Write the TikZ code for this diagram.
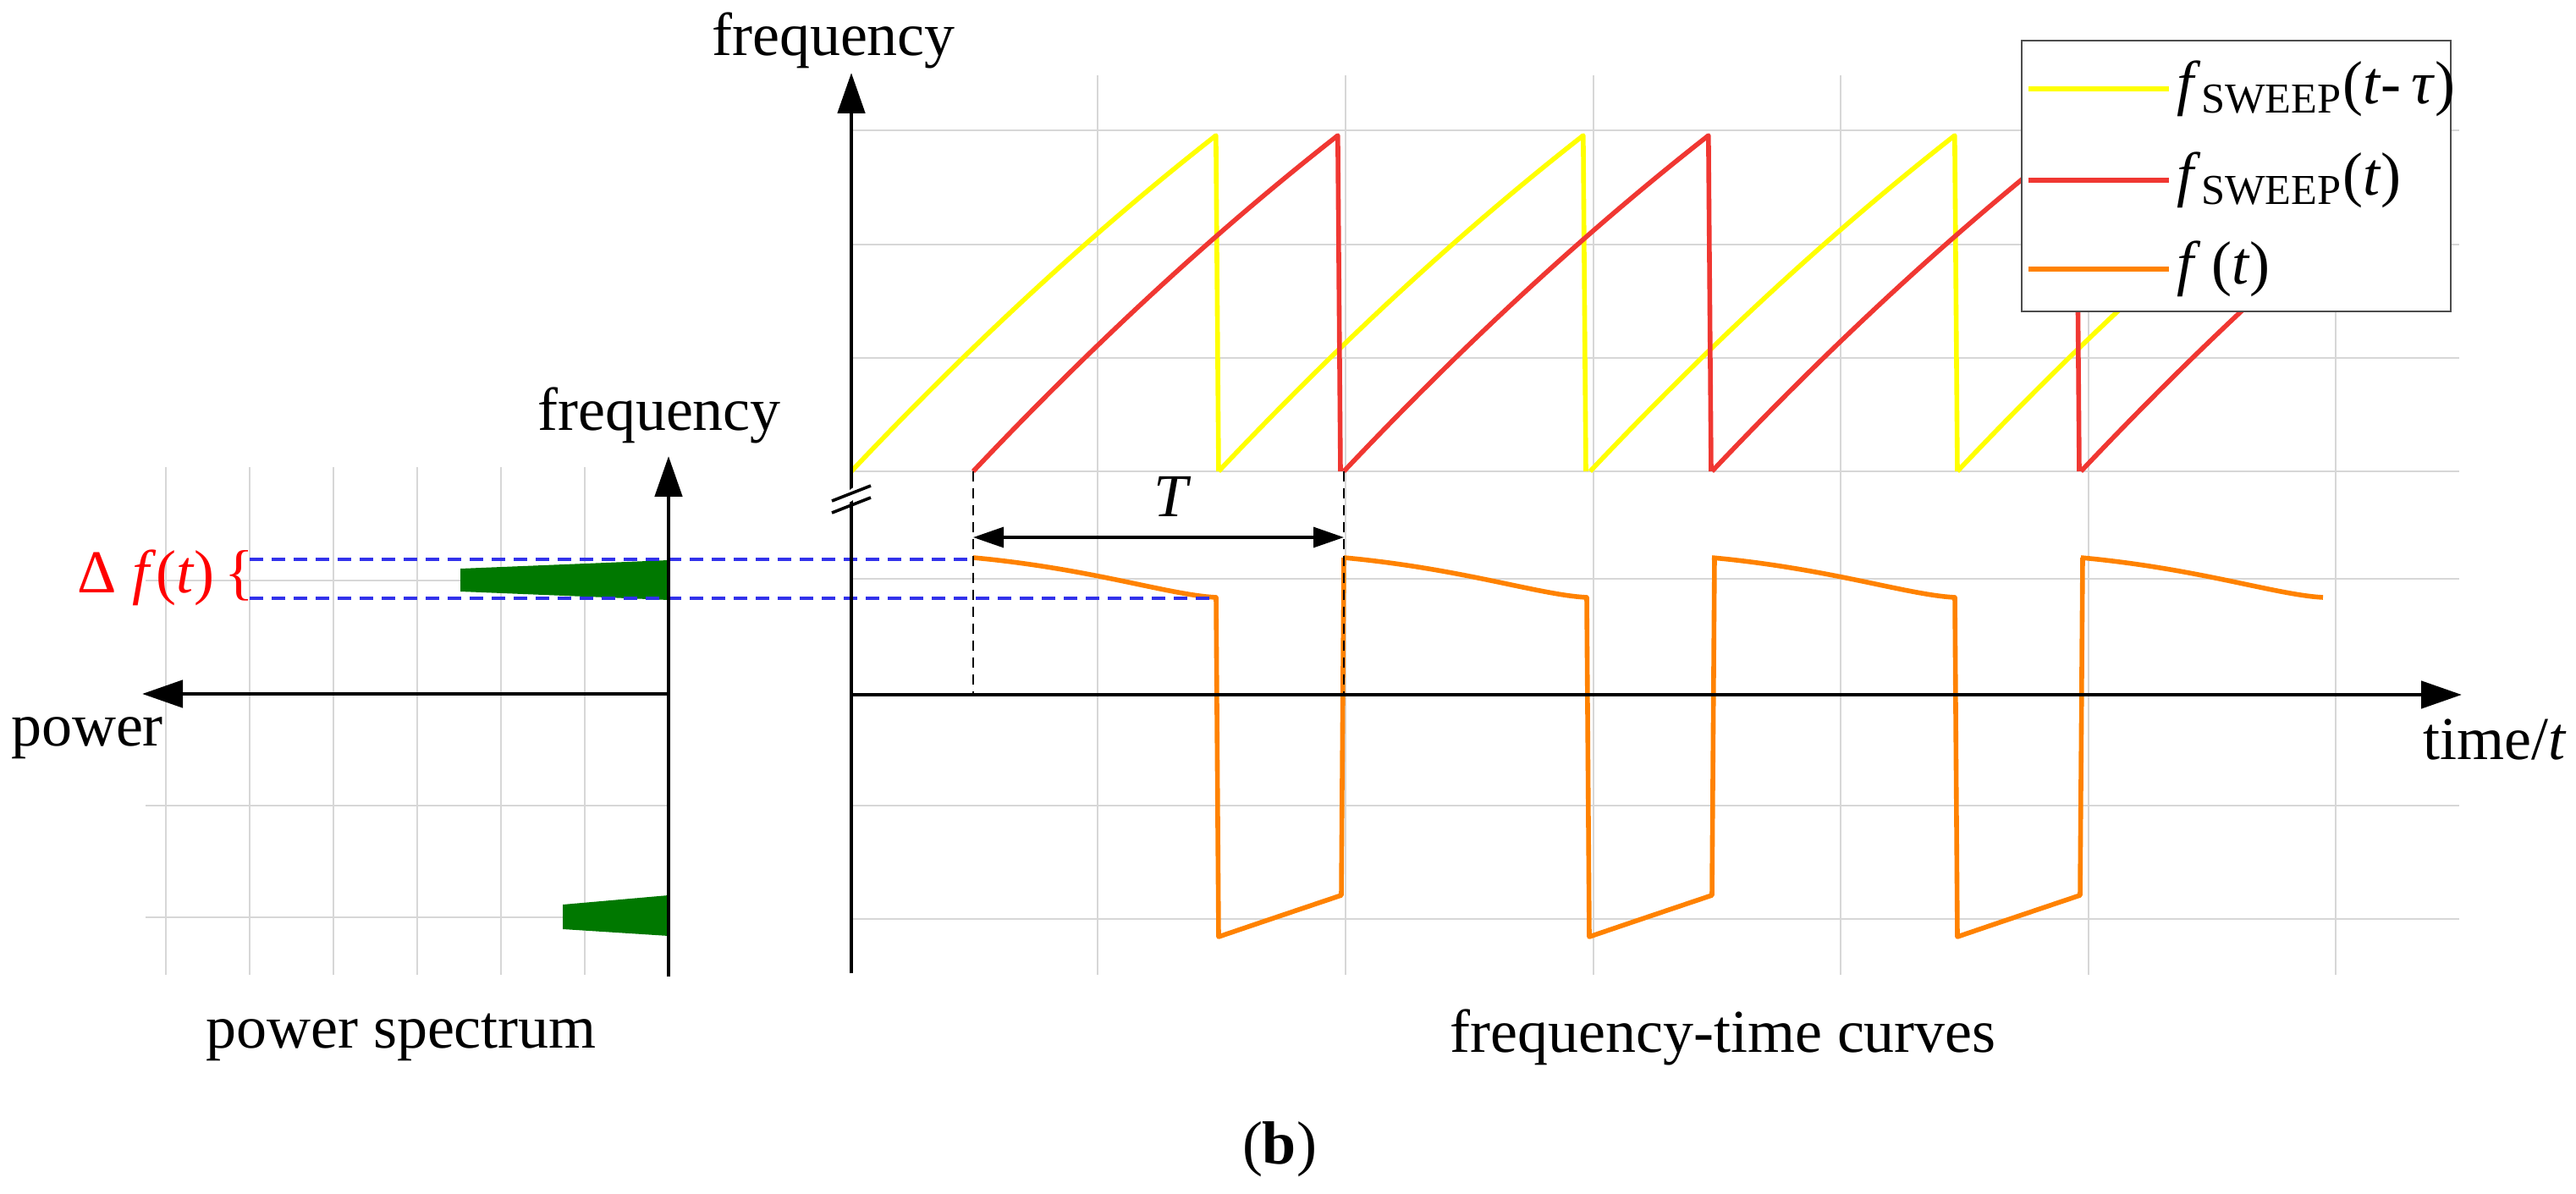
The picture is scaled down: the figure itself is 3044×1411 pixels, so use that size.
\documentclass[tikz,border=0pt]{standalone}
\usepackage{fontspec}
\setmainfont{Liberation Serif}
\usetikzlibrary{arrows.meta}
\definecolor{ye}{RGB}{255,255,0}
\definecolor{re}{RGB}{240,55,50}
\definecolor{og}{RGB}{255,130,0}
\definecolor{gr}{RGB}{0,120,0}
\definecolor{bl}{RGB}{50,50,235}
\definecolor{gl}{RGB}{215,215,215}
\begin{document}
\begin{tikzpicture}[x=0.25pt,y=-0.25pt,
  grid/.style={gl,line width=0.7pt},
  axis/.style={black,line width=1.2pt,-{Triangle[length=12pt,width=8pt]}},
  sweep/.style={line width=1.4pt,line join=round},
  lbl/.style={font=\fontsize{18}{20}\selectfont,inner sep=0pt},
  bdash/.style={bl,line width=0.8pt,dash pattern=on 4pt off 2.5pt},
  kdash/.style={black,line width=0.6pt,dash pattern=on 3pt off 2pt}]
\useasboundingbox (0,0) rectangle (3044,1411);
% grids
\foreach \x in {196,295,394,493,592,691} \draw[grid] (\x,552) -- (\x,1152);
\foreach \y in {686,820,952,1084} \draw[grid] (172,\y) -- (790,\y);
\foreach \x in {1297,1590,1883,2175,2468,2760} \draw[grid] (\x,89) -- (\x,1152);
\foreach \y in {154,289,423,557,684,952,1086} \draw[grid] (1006,\y) -- (2906,\y);
% sweeps
\foreach \s in {1006,1440,1879}
  \draw[sweep,ye] plot[domain=0:1,samples=30] ({\s+431*\x},{557-397*(1.15*\x-0.15*\x*\x)}) -- ({\s+434},557);
\draw[sweep,ye] plot[domain=0:0.6,samples=20] ({2313+431*\x},{557-397*(1.15*\x-0.15*\x*\x)});
\foreach \s in {1150,1588,2023}
  \draw[sweep,re] plot[domain=0:1,samples=30] ({\s+431*\x},{557-397*(1.15*\x-0.15*\x*\x)}) -- ({\s+434},557);
\draw[sweep,re] plot[domain=0:0.45,samples=20] ({2459+431*\x},{557-397*(1.15*\x-0.15*\x*\x)});
% orange f(t)
\foreach \s in {1150,1588,2023}
  \draw[sweep,og] (\s,659) .. controls ({\s+140},672) and ({\s+230},703) .. ({\s+287},706)
    -- ({\s+290},1107) .. controls ({\s+340},1090) .. ({\s+435},1058) -- ({\s+438},659);
\draw[sweep,og] (2459,659) .. controls (2599,672) and (2689,703) .. (2745,706);
% green spectra
\fill[gr] (544,672) -- (790,662) -- (790,709) -- (544,699) -- cycle;
\fill[gr] (665,1069) -- (790,1058) -- (790,1106) -- (665,1098) -- cycle;
% dashed lines
\coordinate (b1) at (295,661); \coordinate (b1e) at (1150,661);
\coordinate (b2) at (295,707); \coordinate (b2e) at (1437,707);
\draw[bdash] (b1) -- (b1e);
\draw[bdash] (b2) -- (b2e);
\coordinate (d1a) at (1150,557); \coordinate (d1b) at (1150,823);
\coordinate (d2a) at (1588,557); \coordinate (d2b) at (1588,820);
\draw[kdash] (d1a) -- (d1b);
\draw[kdash] (d2a) -- (d2b);
% axes
\coordinate (pa0) at (790,1154); \coordinate (pa1) at (790,539);
\coordinate (ph0) at (790,820); \coordinate (ph1) at (168,820);
\coordinate (ma0) at (1006,1150); \coordinate (ma1) at (1006,86);
\coordinate (ta0) at (1006,821); \coordinate (ta1) at (2909,821);
\draw[axis] (pa0) -- (pa1);
\draw[axis] (ph0) -- (ph1);
\draw[axis] (ma0) -- (ma1);
\draw[axis] (ta0) -- (ta1);
% break mark
\draw[white,line width=3pt] (984,600) -- (1028,570);
\draw[black,line width=0.9pt] (983,606) -- (1029,588) (983,592) -- (1029,574);
% T arrow
\coordinate (T0) at (1150,635); \coordinate (T1) at (1588,635);
\draw[line width=0.8pt,{Triangle[length=9pt,width=6pt]}-{Triangle[length=9pt,width=6pt]}] (T0) -- (T1);
\node[lbl] (T) at (1386,587) {\textit{T}};
% labels
\node[lbl] (f1) at (985,48) {frequency};
\node[lbl] (f2) at (779,491) {frequency};
\node[lbl] (pw) at (103,872) {power};
\node[lbl] (tm) at (2948,874) {time/\textit{t}};
\node[lbl,red] (df) at (196,683) {Δ \textit{f}(\textit{t})\,\{};
\node[lbl] (ps) at (474,1226) {power spectrum};
\node[lbl] (ftc) at (2036,1226) {frequency-time curves};
\node[lbl] (b) at (1512,1358) {(\textbf{b})};
% legend
\node[draw=black!70,fill=white,line width=0.7pt,minimum width=507*0.25pt,minimum height=320*0.25pt,inner sep=0pt] (leg) at (2642.5,208) {};
\coordinate (l1a) at (2397,105); \coordinate (l1b) at (2563,105);
\coordinate (l2a) at (2397,213); \coordinate (l2b) at (2563,213);
\coordinate (l3a) at (2397,318); \coordinate (l3b) at (2563,318);
\draw[sweep,ye] (l1a) -- (l1b);
\draw[sweep,re] (l2a) -- (l2b);
\draw[sweep,og] (l3a) -- (l3b);
\node[lbl,anchor=west] (t1) at (2572,105) {\textit{f}\textsubscript{SWEEP}(\textit{t}-\,\textit{τ})};
\node[lbl,anchor=west] (t2) at (2572,213) {\textit{f}\textsubscript{SWEEP}(\textit{t})};
\node[lbl,anchor=west] (t3) at (2572,318) {\textit{f}\,(\textit{t})};
\end{tikzpicture}
\end{document}
